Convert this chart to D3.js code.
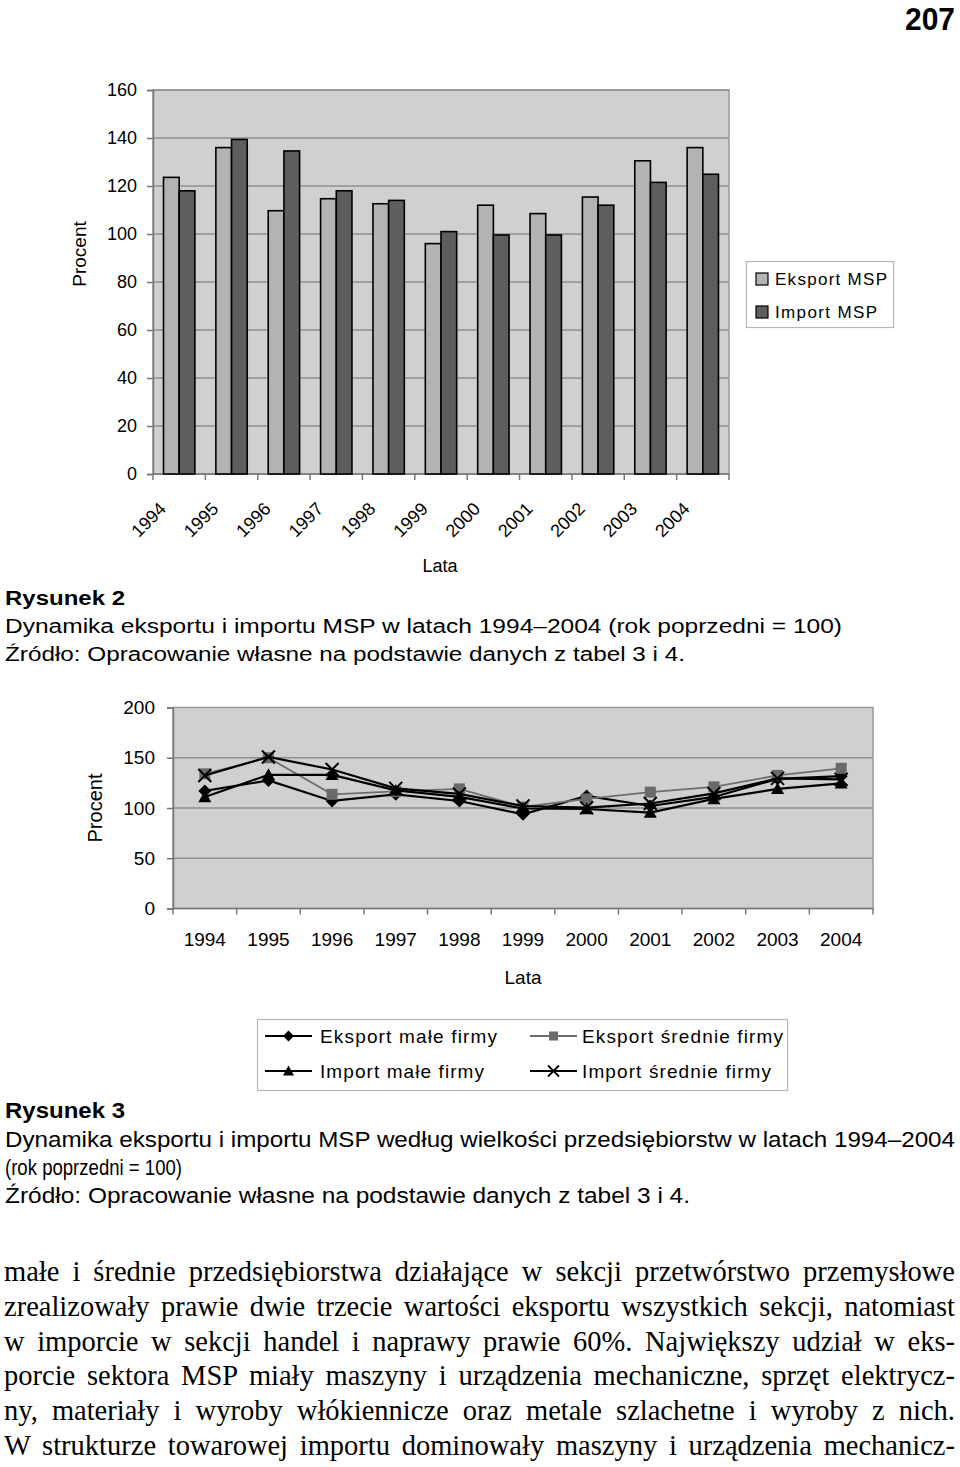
<!DOCTYPE html>
<html><head><meta charset="utf-8">
<script src="https://cdn.jsdelivr.net/npm/d3@7"></script>
<style>body{margin:0;background:#fff}svg{display:block}</style>
</head><body><svg id="c" width="960" height="1467"></svg>
<script>
// ---------- data ----------
const years = ["1994","1995","1996","1997","1998","1999","2000","2001","2002","2003","2004"];
// Rysunek 2
const eksportMSP = [123.6,136,109.7,114.7,112.6,96,112,108.5,115.4,130.5,136];
const importMSP  = [118,139.4,134.6,118,114,101,99.6,99.6,112,121.5,124.9];
const yTicks1 = [0,20,40,60,80,100,120,140,160];
// Rysunek 3
const eksportMale    = [117,127.4,107,113.6,107,93.7,112,102,111,129,131.7];
const eksportSrednie = [134,150,113.6,116.5,119,101,109,115.8,121,132.4,139.5];
const importMale     = [111,133,133,117.5,111,99.5,99,95.5,109,119,124.5];
const importSrednie  = [132.4,150.8,138.3,119.5,114,102,100.3,104.5,114.5,129.5,128.5];
const yTicks2 = [0,50,100,150,200];

const svg = d3.select("#c");
const SANS = "'Liberation Sans', Arial, sans-serif";
const NARROW = "'Liberation Sans Narrow', 'Arial Narrow', 'Liberation Sans', Arial, sans-serif";
const SERIF = "'Liberation Serif', 'Times New Roman', serif";
const PLOTBG = "#d0d0d0", GRID = "#8f8f8f", BORDER = "#9a9a9a";

// page number
svg.append("text").attr("x",955).attr("y",30).attr("text-anchor","end")
  .attr("font-family",NARROW).attr("font-weight","bold")
  .attr("font-size",32).attr("textLength",50).attr("lengthAdjust","spacingAndGlyphs").text("207");

// ---------- Chart 1 ----------
{
  const L=153,R=729,T=90,B=474;
  const x = d3.scaleBand().domain(years).range([L,R]).paddingInner(0).paddingOuter(0);
  const x1 = d3.scaleBand().domain(["e","i"]).range([0,x.bandwidth()]).paddingInner(0).paddingOuter(0.67);
  const y = d3.scaleLinear().domain([0,160]).range([B,T]);
  const g = svg.append("g");
  g.append("rect").attr("x",L).attr("y",T).attr("width",R-L).attr("height",B-T).attr("fill",PLOTBG)
    .attr("stroke",BORDER).attr("stroke-width",1.5);
  g.selectAll(".grid").data(yTicks1.filter(d=>d>0)).join("line")
    .attr("x1",L).attr("x2",R).attr("y1",d=>y(d)).attr("y2",d=>y(d)).attr("stroke",GRID).attr("stroke-width",1.5);
  const ya = d3.axisLeft(y).tickValues(yTicks1).tickSize(6).tickPadding(10);
  const yg = g.append("g").attr("transform",`translate(${L},0)`).call(ya);
  yg.select(".domain").attr("stroke","#777").attr("stroke-width",1.5);
  yg.selectAll(".tick line").attr("stroke","#777").attr("stroke-width",1.5);
  yg.selectAll(".tick text").attr("font-family",SANS).attr("font-size",18).attr("fill","#000");
  const bounds = years.map(d=>x(d)).concat([R]);
  g.selectAll(".xt").data(bounds).join("line").attr("x1",d=>d).attr("x2",d=>d)
    .attr("y1",B).attr("y2",B+6).attr("stroke","#777").attr("stroke-width",1.5);
  g.append("line").attr("x1",L).attr("x2",R).attr("y1",B).attr("y2",B).attr("stroke","#777").attr("stroke-width",1.5);
  const series = [{k:"e",v:eksportMSP,c:"#b3b3b3"},{k:"i",v:importMSP,c:"#5e5e5e"}];
  series.forEach(s=>{
    g.selectAll(".b"+s.k).data(years).join("rect")
      .attr("x",d=>x(d)+x1(s.k)).attr("width",x1.bandwidth())
      .attr("y",(d,i)=>y(s.v[i])).attr("height",(d,i)=>B-y(s.v[i]))
      .attr("fill",s.c).attr("stroke","#000").attr("stroke-width",1.6);
  });
  g.selectAll(".xl").data(years).join("text")
    .attr("transform",d=>`translate(${x(d)+x.bandwidth()/2-12},${510}) rotate(-45)`)
    .attr("text-anchor","end").attr("font-family",SANS).attr("font-size",18).text(d=>d);
  g.append("text").attr("x",440).attr("y",572).attr("text-anchor","middle")
    .attr("font-family",SANS).attr("font-size",18).text("Lata");
  g.append("text").attr("transform","translate(86,254) rotate(-90)").attr("text-anchor","middle")
    .attr("font-family",SANS).attr("font-size",19).text("Procent");
  const lg = g.append("g");
  lg.append("rect").attr("x",746.5).attr("y",261.5).attr("width",147).attr("height",66)
    .attr("fill","#fff").attr("stroke","#b5b5b5").attr("stroke-width",1.2);
  const li = [{n:"Eksport MSP",c:"#b3b3b3",w:112},{n:"Import MSP",c:"#5e5e5e",w:102}];
  li.forEach((d,i)=>{
    const cy = 279+i*33;
    lg.append("rect").attr("x",756).attr("y",cy-6).attr("width",12).attr("height",12)
      .attr("fill",d.c).attr("stroke","#000").attr("stroke-width",1.2);
    lg.append("text").attr("x",775).attr("y",cy+6).attr("font-family",SANS).attr("font-size",17)
      .attr("textLength",d.w).attr("lengthAdjust","spacing").text(d.n);
  });
}

// ---------- Captions ----------
function cap(lines, fam, size){
  lines.forEach(l=>{
    const t = svg.append("text").attr("x",5).attr("y",l.y).attr("font-family",fam)
      .attr("font-size",size).attr("font-weight",l.b?"bold":"normal").text(l.t);
    if(l.w) t.attr("textLength",l.w).attr("lengthAdjust","spacingAndGlyphs");
  });
}
cap([
  {t:"Rysunek 2",y:605,b:true,w:120},
  {t:"Dynamika eksportu i importu MSP w latach 1994–2004 (rok poprzedni = 100)",y:633,w:837},
  {t:"Źródło: Opracowanie własne na podstawie danych z tabel 3 i 4.",y:661,w:680}
], SANS, 20);

// ---------- Chart 2 ----------
{
  const L=173,R=873,T=707.5,B=908.5;
  const x = d3.scaleBand().domain(years).range([L,R]);
  const y = d3.scaleLinear().domain([0,200]).range([B,T]);
  const cx = d=>x(d)+x.bandwidth()/2;
  const g = svg.append("g");
  g.append("rect").attr("x",L).attr("y",T).attr("width",R-L).attr("height",B-T).attr("fill",PLOTBG)
    .attr("stroke",BORDER).attr("stroke-width",1.5);
  g.selectAll(".grid").data(yTicks2.filter(d=>d>0&&d<200)).join("line")
    .attr("x1",L).attr("x2",R).attr("y1",d=>y(d)).attr("y2",d=>y(d)).attr("stroke",GRID).attr("stroke-width",1.5);
  const ya = d3.axisLeft(y).tickValues(yTicks2).tickSize(6).tickPadding(12);
  const yg = g.append("g").attr("transform",`translate(${L},0)`).call(ya);
  yg.select(".domain").attr("stroke","#777").attr("stroke-width",1.5);
  yg.selectAll(".tick line").attr("stroke","#777").attr("stroke-width",1.5);
  yg.selectAll(".tick text").attr("font-family",SANS).attr("font-size",19).attr("fill","#000");
  const bounds = years.map(d=>x(d)).concat([R]);
  g.selectAll(".xt").data(bounds).join("line").attr("x1",d=>d).attr("x2",d=>d)
    .attr("y1",B).attr("y2",B+6).attr("stroke","#777").attr("stroke-width",1.5);
  g.append("line").attr("x1",L).attr("x2",R).attr("y1",B).attr("y2",B).attr("stroke","#777").attr("stroke-width",1.5);
  g.selectAll(".xl").data(years).join("text").attr("x",cx).attr("y",946).attr("text-anchor","middle")
    .attr("font-family",SANS).attr("font-size",19).text(d=>d);
  g.append("text").attr("x",523).attr("y",984).attr("text-anchor","middle")
    .attr("font-family",SANS).attr("font-size",19).text("Lata");
  g.append("text").attr("transform","translate(102,808) rotate(-90)").attr("text-anchor","middle")
    .attr("font-family",SANS).attr("font-size",20).text("Procent");

  const sym = {
    diamond: s=>`M0,${-s}L${s},0L0,${s}L${-s},0Z`,
    square: s=>`M${-s},${-s}H${s}V${s}H${-s}Z`,
    triangle: s=>`M0,${-s}L${s},${s*0.8}L${-s},${s*0.8}Z`,
    cross: s=>`M${-s},${-s}L${s},${s}M${-s},${s}L${s},${-s}`
  };
  const series = [
    {n:"Eksport małe firmy",v:eksportMale,lc:"#000",lw:2.2,m:"diamond",ms:6.5,mc:"#000",w:177},
    {n:"Eksport średnie firmy",v:eksportSrednie,lc:"#6e6e6e",lw:1.8,m:"square",ms:5.5,mc:"#6a6a6a",w:201},
    {n:"Import małe firmy",v:importMale,lc:"#000",lw:2.2,m:"triangle",ms:6.5,mc:"#000",w:164},
    {n:"Import średnie firmy",v:importSrednie,lc:"#000",lw:2.2,m:"cross",ms:6.5,mc:"#000",w:189}
  ];
  const line = d3.line().x(d=>cx(d[0])).y(d=>y(d[1]));
  series.forEach(s=>{
    const pts = years.map((yr,i)=>[yr,s.v[i]]);
    g.append("path").attr("d",line(pts)).attr("fill","none").attr("stroke",s.lc).attr("stroke-width",s.lw);
    g.selectAll(null).data(pts).join("path")
      .attr("transform",d=>`translate(${cx(d[0])},${y(d[1])})`)
      .attr("d",sym[s.m](s.ms))
      .attr("fill",s.m==="cross"?"none":s.mc)
      .attr("stroke",s.m==="cross"?"#000":"none").attr("stroke-width",2);
  });
  const lg = g.append("g");
  lg.append("rect").attr("x",257.5).attr("y",1019.5).attr("width",530).attr("height",71)
    .attr("fill","#fff").attr("stroke","#b5b5b5").attr("stroke-width",1.2);
  const pos = [[265,1036],[530,1036],[265,1071],[530,1071]];
  series.forEach((s,i)=>{
    const [lx,ly]=pos[i];
    lg.append("line").attr("x1",lx).attr("x2",lx+47).attr("y1",ly).attr("y2",ly)
      .attr("stroke",s.lc).attr("stroke-width",s.lw);
    lg.append("path").attr("transform",`translate(${lx+23.5},${ly})`).attr("d",sym[s.m](s.m==="square"?4.5:5.5))
      .attr("fill",s.m==="cross"?"none":s.mc).attr("stroke",s.m==="cross"?"#000":"none").attr("stroke-width",1.8);
    lg.append("text").attr("x",lx+(i%2?52:55)).attr("y",ly+7).attr("font-family",SANS).attr("font-size",19)
      .attr("textLength",s.w).attr("lengthAdjust","spacing").text(s.n);
  });
}

cap([
  {t:"Rysunek 3",y:1118,b:true,w:120},
  {t:"Dynamika eksportu i importu MSP według wielkości przedsiębiorstw w latach 1994–2004",y:1147,w:950},
  {t:"(rok poprzedni = 100)",y:1175,w:177},
  {t:"Źródło: Opracowanie własne na podstawie danych z tabel 3 i 4.",y:1203,w:685}
], NARROW, 22);

// ---------- Body text (justified via word spacing) ----------
const body = [
  "małe i średnie przedsiębiorstwa działające w sekcji przetwórstwo przemysłowe",
  "zrealizowały prawie dwie trzecie wartości eksportu wszystkich sekcji, natomiast",
  "w imporcie w sekcji handel i naprawy prawie 60%. Największy udział w eks-",
  "porcie sektora MSP miały maszyny i urządzenia mechaniczne, sprzęt elektrycz-",
  "ny, materiały i wyroby włókiennicze oraz metale szlachetne i wyroby z nich.",
  "W strukturze towarowej importu dominowały maszyny i urządzenia mechanicz-"
];
svg.selectAll(".body").data(body).join("text")
  .attr("x",4).attr("y",(d,i)=>1281+i*34.8)
  .attr("font-family",SERIF).attr("font-size",28.5).text(d=>d)
  .each(function(d){
    const w = this.getComputedTextLength();
    const n = (d.match(/ /g)||[]).length;
    const extra = (951 - w)/n;
    if (extra >= 0) d3.select(this).attr("word-spacing", extra.toFixed(2));
    else d3.select(this).attr("textLength",951).attr("lengthAdjust","spacingAndGlyphs");
  });
</script></body></html>
